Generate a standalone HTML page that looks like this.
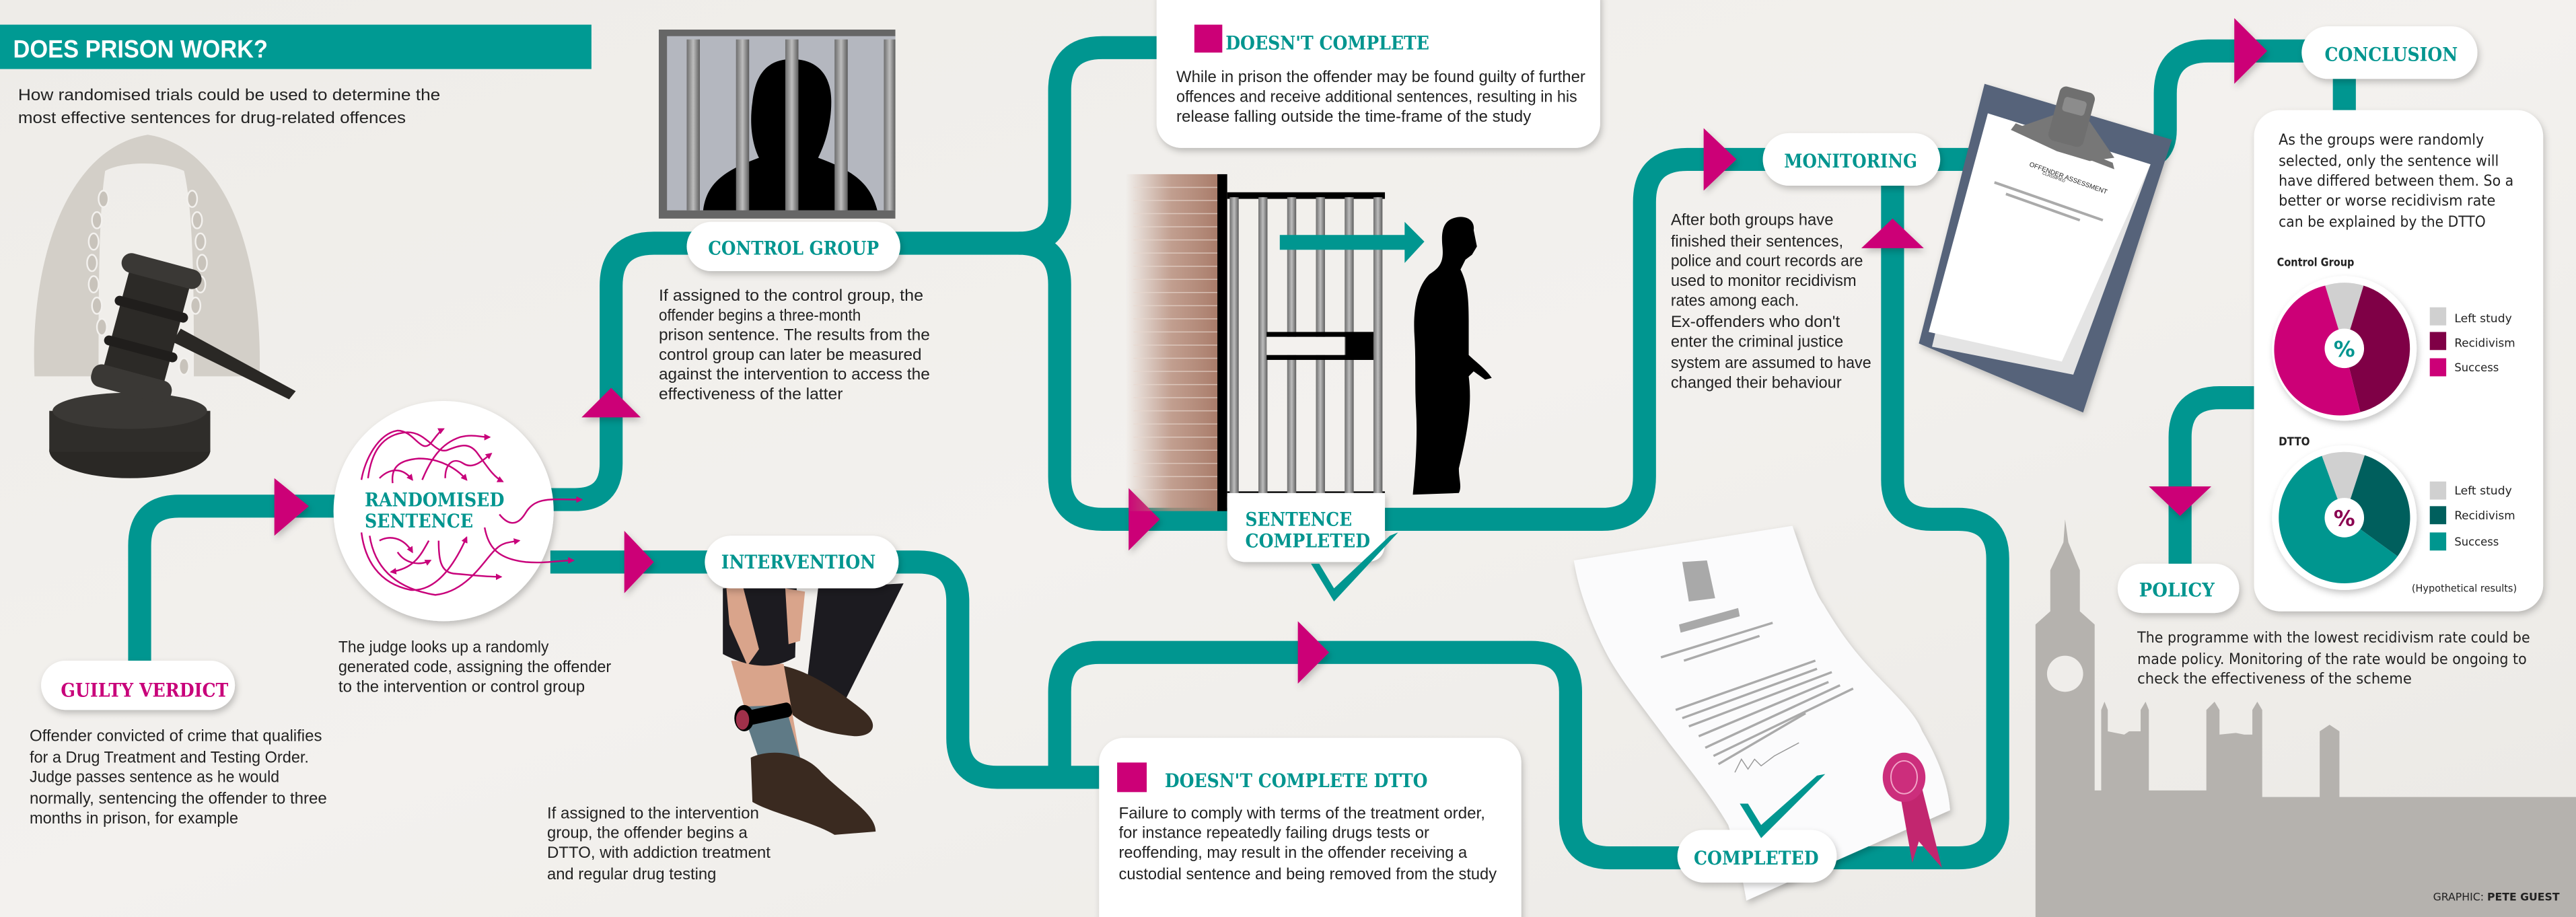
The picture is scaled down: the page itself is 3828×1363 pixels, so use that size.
<!DOCTYPE html>
<html><head><meta charset="utf-8">
<style>
html,body{margin:0;padding:0;background:#efedea;}
svg{display:block;}
.b{font-family:"Liberation Sans",sans-serif;font-size:10px;fill:#222;}
.w{font-family:"DejaVu Sans","Liberation Sans",sans-serif;fill:#222;}
.h{font-family:"DejaVu Serif","Liberation Serif",serif;font-weight:bold;font-size:11.5px;fill:#00958f;}
</style></head><body>
<svg width="3828" height="1363" viewBox="0 0 1568 558" preserveAspectRatio="none" xmlns="http://www.w3.org/2000/svg">
<defs>
<filter id="sh" x="-20%" y="-20%" width="140%" height="160%"><feDropShadow dx="1" dy="2" stdDeviation="2" flood-color="#000" flood-opacity="0.22"/></filter>
<linearGradient id="bg" x1="0" y1="0" x2="1" y2="1"><stop offset="0" stop-color="#eeece8"/><stop offset="0.5" stop-color="#f3f1ee"/><stop offset="1" stop-color="#ebe9e5"/></linearGradient>
<linearGradient id="brick" x1="0" y1="0" x2="1" y2="0"><stop offset="0" stop-color="#b58a78" stop-opacity="0"/><stop offset="0.5" stop-color="#b58a78" stop-opacity="0.8"/><stop offset="1" stop-color="#a97c6a"/></linearGradient>
<linearGradient id="bar" x1="0" y1="0" x2="1" y2="0"><stop offset="0" stop-color="#6d6d6d"/><stop offset="0.5" stop-color="#bdbdbd"/><stop offset="1" stop-color="#5d5d5d"/></linearGradient>
<marker id="ah" viewBox="0 0 10 10" refX="8" refY="5" markerWidth="4" markerHeight="4" orient="auto"><path d="M0,0 L10,5 L0,10 z" fill="#c8007a"/></marker>
</defs>
<rect width="1568" height="558" fill="url(#bg)"/>

<!-- Big Ben skyline -->
<path d="M1239,558 V380 L1248,372 V347 L1256,330 L1257,316 L1259,330 L1266,347 V372 L1275,380 V481 H1279 V432 L1281,427 L1283,432 V445 L1293,447 L1296,445 H1303 V432 L1306,427 L1308,432 V481 H1343 V432 L1348,427 L1351,432 V447 L1361,446 L1366,447 H1371 V432 L1374,427 L1377,432 V485 H1412 V445 L1418,441 L1424,445 V485 H1568 V558 Z" fill="#b5b2ae"/>
<circle cx="1257" cy="410" r="11" fill="#efedea"/>

<!-- Title -->
<rect x="0" y="15" width="360" height="27" fill="#009a93"/>
<text x="8" y="35" font-family="Liberation Sans Narrow,Liberation Sans,sans-serif" font-weight="bold" font-size="15" fill="#fff" textLength="155" lengthAdjust="spacingAndGlyphs">DOES PRISON WORK?</text>
<text class="b" x="11" y="61" font-size="10.5" textLength="257" lengthAdjust="spacingAndGlyphs">How randomised trials could be used to determine the</text>
<text class="b" x="11" y="75" font-size="10.5" textLength="236" lengthAdjust="spacingAndGlyphs">most effective sentences for drug-related offences</text>

<!-- Wig + gavel -->
<path d="M21,229 C18,160 40,90 90,82 C140,90 160,160 158,229 H118 C118,180 118,130 112,104 C100,98 75,98 64,104 C60,130 60,180 60,229 Z" fill="#d3cfc8"/>
<g fill="#c8c3bb" stroke="#f3f1ee" stroke-width="1"><ellipse cx="63" cy="121" rx="3" ry="5"/><ellipse cx="59" cy="134" rx="3" ry="5"/><ellipse cx="57" cy="147" rx="3" ry="5"/><ellipse cx="56" cy="160" rx="3" ry="5"/><ellipse cx="57" cy="173" rx="3" ry="5"/><ellipse cx="59" cy="186" rx="3" ry="5"/><ellipse cx="62" cy="199" rx="3" ry="5"/><ellipse cx="117" cy="121" rx="3" ry="5"/><ellipse cx="120" cy="134" rx="3" ry="5"/><ellipse cx="122" cy="147" rx="3" ry="5"/><ellipse cx="123" cy="160" rx="3" ry="5"/><ellipse cx="122" cy="173" rx="3" ry="5"/><ellipse cx="119" cy="186" rx="3" ry="5"/><ellipse cx="112" cy="223" rx="3" ry="5"/></g>
<ellipse cx="79" cy="274" rx="49" ry="17" fill="#2a2825"/>
<rect x="30" y="250" width="98" height="25" fill="#2f2d2a"/>
<ellipse cx="79" cy="250" rx="47" ry="11" fill="#3a3835"/>
<path d="M110,200 L180,238 L176,243 L105,208 Z" fill="#2a2825"/>
<g transform="rotate(15 90 200)"><rect x="70" y="160" width="38" height="78" rx="6" fill="#2c2a27"/><rect x="64" y="158" width="50" height="12" rx="6" fill="#3a3835"/><rect x="64" y="228" width="50" height="14" rx="6" fill="#3a3835"/><rect x="66" y="185" width="46" height="6" rx="3" fill="#201e1c"/><rect x="66" y="210" width="46" height="6" rx="3" fill="#201e1c"/></g>

<!-- Pipes -->
<g fill="none" stroke="#009690" stroke-width="14" stroke-linejoin="round">
<path d="M85,405 V332 Q85,308 109,308 H215"/>
<path d="M330,304 H350 Q372,304 372,282 V174 Q372,148 398,148 H425"/>
<path d="M545,148 H620 Q645,148 645,123 V55 Q645,29 671,29 H710"/>
<path d="M620,148 Q645,148 645,173 V290 Q645,316 671,316 H975 Q1001,316 1001,290 V123 Q1001,97 1027,97 H1300 Q1318,97 1318,79 V57 Q1318,31 1344,31 H1410"/>
<path d="M1152,100 V292 Q1152,316 1176,316 H1192 Q1216,316 1216,340 V498 Q1216,522 1192,522 H980 Q956,522 956,498 V421 Q956,397 932,397 H669 Q645,397 645,421 V473"/>
<path d="M335,342 H559 Q583,342 583,366 V449 Q583,473 607,473 H680"/>
<path d="M1427,45 V70"/>
<path d="M1375,242 H1351 Q1327,242 1327,266 V350"/>
</g>

<!-- Magenta arrows -->
<g fill="#cc0077" filter="url(#sh)">
<polygon points="167,291 188,308 167,326"/>
<polygon points="372,236 390,254 354,254"/>
<polygon points="380,323 398,342 380,361"/>
<polygon points="687,297 706,316 687,335"/>
<polygon points="790,378 809,397 790,416"/>
<polygon points="1037,78 1057,97 1037,116"/>
<polygon points="1152,133 1171,151 1133,151"/>
<polygon points="1360,11 1380,31 1360,51"/>
<polygon points="1308,296 1346,296 1327,314"/>
</g>

<!-- Prison bars picture -->
<rect x="401" y="18" width="144" height="115" fill="#666"/>
<rect x="406" y="22" width="139" height="106" fill="#b4b7bf"/>
<path d="M428,128 C430,112 440,104 462,96 C458,88 456,76 458,62 C460,42 470,36 482,36 C496,36 506,44 506,62 C506,76 502,88 498,96 C520,104 530,112 534,128 Z" fill="#000"/>
<g fill="url(#bar)"><rect x="418" y="24" width="8" height="104"/><rect x="448" y="24" width="8" height="104"/><rect x="478" y="24" width="8" height="104"/><rect x="508" y="24" width="8" height="104"/><rect x="538" y="24" width="7" height="104"/></g>

<!-- Gate, brick, man -->
<rect x="685" y="106" width="56" height="205" fill="url(#brick)"/>
<g stroke="#e8d8cf" stroke-width="0.6" opacity="0.7"><line x1="690" y1="114" x2="741" y2="114"/><line x1="690" y1="122" x2="741" y2="122"/><line x1="690" y1="130" x2="741" y2="130"/><line x1="690" y1="138" x2="741" y2="138"/><line x1="690" y1="146" x2="741" y2="146"/><line x1="690" y1="154" x2="741" y2="154"/><line x1="690" y1="162" x2="741" y2="162"/><line x1="690" y1="170" x2="741" y2="170"/><line x1="690" y1="178" x2="741" y2="178"/><line x1="690" y1="186" x2="741" y2="186"/><line x1="690" y1="194" x2="741" y2="194"/><line x1="690" y1="202" x2="741" y2="202"/><line x1="690" y1="210" x2="741" y2="210"/><line x1="690" y1="218" x2="741" y2="218"/><line x1="690" y1="226" x2="741" y2="226"/><line x1="690" y1="234" x2="741" y2="234"/><line x1="690" y1="242" x2="741" y2="242"/><line x1="690" y1="250" x2="741" y2="250"/><line x1="690" y1="258" x2="741" y2="258"/><line x1="690" y1="266" x2="741" y2="266"/><line x1="690" y1="274" x2="741" y2="274"/><line x1="690" y1="282" x2="741" y2="282"/><line x1="690" y1="290" x2="741" y2="290"/><line x1="690" y1="298" x2="741" y2="298"/></g>
<rect x="741" y="106" width="6" height="205" fill="#000"/>
<rect x="747" y="117" width="96" height="4" fill="#000"/>
<rect x="747" y="299" width="96" height="3" fill="#000"/>
<g fill="url(#bar)"><rect x="748.5" y="120" width="5.5" height="180"/><rect x="766" y="120" width="5.5" height="180"/><rect x="783.5" y="120" width="5.5" height="180"/><rect x="801" y="120" width="5.5" height="180"/><rect x="818.5" y="120" width="5.5" height="180"/><rect x="836" y="120" width="5.5" height="180"/></g>
<rect x="771" y="202" width="65" height="3" fill="#000"/><rect x="771" y="216" width="65" height="3" fill="#000"/><rect x="771" y="205" width="47" height="11" fill="#f3f1ee"/><rect x="819" y="202" width="17" height="17" fill="#000"/>
<path d="M779,143 H855 V135 L867,147 L855,160 V152 H779 Z" fill="#009690"/>
<path d="M884,133 C892,130 898,134 897,140 L899,150 L896,155 L892,158 L889,164 C893,172 894,180 894,195 L894,216 C898,220 905,225 908,230 L904,231 L897,226 L894,229 C896,245 894,260 888,285 C888,292 890,296 888,300 L860,301 C861,290 863,270 862,250 C861,235 862,220 861,205 C860,190 862,175 870,167 C876,163 879,160 878,150 C877,140 879,135 884,133 Z" fill="#000"/>

<!-- Legs illustration -->
<path d="M498,358 L550,355 L515,425 L490,425 Z" fill="#1c1b20"/>
<path d="M470,404 C490,406 510,420 525,432 C535,440 533,448 520,448 C500,446 485,440 478,430 Z" fill="#3a2a20"/>
<path d="M445,402 L477,404 L487,461 L463,465 Z" fill="#d9a48b"/>
<path d="M451,430 L478,429 L487,461 L463,465 Z" fill="#5f7a86"/>
<path d="M457,461 C470,455 490,458 500,470 C515,485 533,495 533,506 L508,508 C495,500 470,495 458,488 Z" fill="#3a2a20"/>
<path d="M440,358 L485,356 L484,400 C470,408 455,406 440,398 Z" fill="#1c1b20"/>
<path d="M442,356 L452,356 L462,395 L455,405 L444,380 Z" fill="#d9a48b"/>
<path d="M478,358 L490,360 L487,390 L480,392 Z" fill="#d9a48b"/>
<rect x="452" y="430" width="30" height="9" rx="3" fill="#000" transform="rotate(-12 467 434)"/>
<ellipse cx="453" cy="437" rx="6" ry="8" fill="#000"/><ellipse cx="452" cy="438" rx="4" ry="6" fill="#a0304a"/>

<!-- Certificate -->
<path d="M958,341 L1091,320 C1098,340 1104,360 1110,368 C1120,385 1128,395 1135,403 C1150,420 1165,432 1170,445 C1180,462 1186,478 1187,493 L1063,548 C1060,530 1056,515 1052,502 C1042,485 1030,470 1016,452 C1000,430 985,412 977,396 C968,378 961,360 958,341 Z" fill="#fbfbfc" filter="url(#sh)"/>
<polygon points="1024,342 1039,341 1044,364 1028,366" fill="#a9a9a9"/>
<polygon points="1022,380 1058,370 1059,375 1023,385" fill="#a9a9a9"/>
<g stroke="#aaa" stroke-width="1.4"><line x1="1011" y1="400" x2="1079" y2="379"/><line x1="1025" y1="402" x2="1071" y2="387"/><line x1="1020" y1="432" x2="1105" y2="402"/><line x1="1024" y1="437" x2="1106" y2="407"/><line x1="1028" y1="442" x2="1115" y2="409"/><line x1="1034" y1="448" x2="1113" y2="415"/><line x1="1038" y1="455" x2="1120" y2="417"/><line x1="1043" y1="460" x2="1128" y2="419"/><line x1="1046" y1="465" x2="1099" y2="434"/></g>
<path d="M1056,470 L1060,462 L1064,468 L1068,462 L1072,466 L1080,460 L1095,452" stroke="#999" stroke-width="0.6" fill="none"/>
<path d="M1156,480 L1164,525 L1168,512 L1182,528 L1170,480 Z" fill="#c2266f"/>
<ellipse cx="1159" cy="473" rx="13" ry="15" fill="#cc2e7c"/><ellipse cx="1159" cy="473" rx="8" ry="10" fill="none" stroke="#f2a5c8" stroke-width="0.8"/>

<!-- Clipboard -->
<polygon points="1208,51 1322,85 1268,251 1168,209" fill="#56647a" filter="url(#sh)"/>
<polygon points="1210,69 1309,100 1262,228 1176,211" fill="#e4e4e4"/>
<polygon points="1210,69 1309,100 1255,220 1174,202" fill="#fff"/>
<polygon points="1224,79 1287,103 1286,99 1227,75" fill="#777"/>
<path d="M1224,79 L1250,70 L1272,74 L1287,96 L1272,98 L1252,92 Z" fill="#777"/>
<rect x="1250" y="54" width="22" height="34" rx="4" fill="#6f6f6f" transform="rotate(15 1261 71)"/>
<rect x="1254" y="60" width="14" height="9" rx="2" fill="#8c8c8c" transform="rotate(15 1261 71)"/>
<text x="1235" y="101" font-family="Liberation Sans,sans-serif" font-size="4" fill="#222" transform="rotate(20 1235 101)">OFFENDER ASSESSMENT</text>
<text x="1243" y="106" font-family="Liberation Sans,sans-serif" font-size="2.5" fill="#222" transform="rotate(20 1243 106)">CLASSIFIED</text>
<line x1="1214" y1="111" x2="1280" y2="134" stroke="#aaa" stroke-width="1.6"/><line x1="1221" y1="118" x2="1266" y2="134" stroke="#aaa" stroke-width="1.6"/>

<!-- Pills and boxes -->
<g fill="#fff" filter="url(#sh)">
<rect x="25" y="402" width="118" height="30" rx="15"/>
<circle cx="270" cy="311" r="67"/>
<rect x="418" y="135" width="130" height="30" rx="15"/>
<rect x="429" y="326" width="118" height="32" rx="16"/>
<rect x="704" y="-15" width="270" height="105" rx="15"/>
<path d="M747,300 H843 V330 Q843,342 831,342 H759 Q747,342 747,330 Z"/>
<rect x="1073" y="81" width="108" height="32" rx="16"/>
<rect x="669" y="449" width="257" height="125" rx="15"/>
<rect x="1021" y="505" width="97" height="32" rx="16"/>
<rect x="1401" y="16" width="107" height="32" rx="16"/>
<rect x="1372" y="67" width="176" height="305" rx="16"/>
<rect x="1289" y="343" width="74" height="30" rx="15"/>
</g>

<!-- Squiggles -->
<g fill="none" stroke="#c8007a" stroke-width="1" marker-end="url(#ah)">
<path d="M220,292 C222,280 230,264 242,262 C252,262 256,276 262,270 C265,266 268,262 270,261"/>
<path d="M231,291 C236,286 244,283 251,292"/>
<path d="M239,294 C238,285 242,280 255,279 C268,279 278,285 284,292"/>
<path d="M257,292 C262,280 268,270 280,266 C288,264 292,266 298,266"/>
<path d="M271,291 C271,282 276,278 282,282 C288,286 294,280 299,276"/>
<path d="M224,291 C226,276 232,264 248,263 C260,263 264,276 272,274 C280,271 285,269 290,275 C296,283 300,290 306,293"/>
<path d="M304,313 C308,318 314,322 320,312 C326,302 336,304 354,304"/>
<path d="M295,321 C297,332 302,340 320,342 C332,343 340,341 349,341"/>
<path d="M220,324 C222,340 230,355 250,359 C265,360 276,345 284,327"/>
<path d="M225,326 C228,345 240,358 265,362 C285,360 295,340 302,334 C306,330 310,330 316,329"/>
<path d="M231,329 C236,326 245,326 251,336"/>
<path d="M242,336 C246,342 254,345 262,341"/>
<path d="M267,329 C267,340 268,348 276,349 C288,350 296,351 305,351"/>
<path d="M261,329 C256,338 252,346 238,348"/>
</g>

<!-- Checkmarks -->
<path d="M798,343 L812,366 L851,324 L846,326 L812,358 L803,343 Z" fill="#009690"/>
<path d="M1059,489 L1072,510 L1111,471 L1106,472 L1072,502 L1064,489 Z" fill="#009690"/>

<!-- Heading labels -->
<text class="h" x="37" y="424" fill="#c8007a" style="fill:#c8007a" textLength="102" lengthAdjust="spacingAndGlyphs">GUILTY VERDICT</text>
<text class="h" x="222" y="308" font-size="12.5" textLength="85" lengthAdjust="spacingAndGlyphs">RANDOMISED</text>
<text class="h" x="222" y="321" font-size="12.5" textLength="66" lengthAdjust="spacingAndGlyphs">SENTENCE</text>
<text class="h" x="431" y="155" textLength="104" lengthAdjust="spacingAndGlyphs">CONTROL GROUP</text>
<text class="h" x="439" y="346" textLength="94" lengthAdjust="spacingAndGlyphs">INTERVENTION</text>
<rect x="727" y="15" width="17" height="17" fill="#cc0077"/>
<text class="h" x="746" y="30" textLength="124" lengthAdjust="spacingAndGlyphs">DOESN'T COMPLETE</text>
<text class="h" x="758" y="320" textLength="65" lengthAdjust="spacingAndGlyphs">SENTENCE</text>
<text class="h" x="758" y="333" textLength="76" lengthAdjust="spacingAndGlyphs">COMPLETED</text>
<text class="h" x="1086" y="102" textLength="81" lengthAdjust="spacingAndGlyphs">MONITORING</text>
<rect x="680" y="464" width="18" height="18" fill="#cc0077"/>
<text class="h" x="709" y="479" textLength="160" lengthAdjust="spacingAndGlyphs">DOESN'T COMPLETE DTTO</text>
<text class="h" x="1031" y="526" textLength="76" lengthAdjust="spacingAndGlyphs">COMPLETED</text>
<text class="h" x="1415" y="37" textLength="81" lengthAdjust="spacingAndGlyphs">CONCLUSION</text>
<text class="h" x="1302" y="363" textLength="46" lengthAdjust="spacingAndGlyphs">POLICY</text>

<!-- Body text -->
<g class="b">
<text x="18" y="451" textLength="178" lengthAdjust="spacingAndGlyphs">Offender convicted of crime that qualifies</text>
<text x="18" y="464" textLength="170" lengthAdjust="spacingAndGlyphs">for a Drug Treatment and Testing Order.</text>
<text x="18" y="476" textLength="152" lengthAdjust="spacingAndGlyphs">Judge passes sentence as he would</text>
<text x="18" y="489" textLength="181" lengthAdjust="spacingAndGlyphs">normally, sentencing the offender to three</text>
<text x="18" y="501" textLength="127" lengthAdjust="spacingAndGlyphs">months in prison, for example</text>

<text x="206" y="397" textLength="128" lengthAdjust="spacingAndGlyphs">The judge looks up a randomly</text>
<text x="206" y="409" textLength="166" lengthAdjust="spacingAndGlyphs">generated code, assigning the offender</text>
<text x="206" y="421" textLength="150" lengthAdjust="spacingAndGlyphs">to the intervention or control group</text>

<text x="333" y="498" textLength="129" lengthAdjust="spacingAndGlyphs">If assigned to the intervention</text>
<text x="333" y="510" textLength="122" lengthAdjust="spacingAndGlyphs">group, the offender begins a</text>
<text x="333" y="522" textLength="136" lengthAdjust="spacingAndGlyphs">DTTO, with addiction treatment</text>
<text x="333" y="535" textLength="103" lengthAdjust="spacingAndGlyphs">and regular drug testing</text>

<text x="401" y="183" textLength="161" lengthAdjust="spacingAndGlyphs">If assigned to the control group, the</text>
<text x="401" y="195" textLength="123" lengthAdjust="spacingAndGlyphs">offender begins a three-month</text>
<text x="401" y="207" textLength="165" lengthAdjust="spacingAndGlyphs">prison sentence. The results from the</text>
<text x="401" y="219" textLength="160" lengthAdjust="spacingAndGlyphs">control group can later be measured</text>
<text x="401" y="231" textLength="165" lengthAdjust="spacingAndGlyphs">against the intervention to access the</text>
<text x="401" y="243" textLength="112" lengthAdjust="spacingAndGlyphs">effectiveness of the latter</text>

<text x="716" y="50" textLength="249" lengthAdjust="spacingAndGlyphs">While in prison the offender may be found guilty of further</text>
<text x="716" y="62" textLength="244" lengthAdjust="spacingAndGlyphs">offences and receive additional sentences, resulting in his</text>
<text x="716" y="74" textLength="216" lengthAdjust="spacingAndGlyphs">release falling outside the time-frame of the study</text>

<text x="1017" y="137" textLength="99" lengthAdjust="spacingAndGlyphs">After both groups have</text>
<text x="1017" y="150" textLength="105" lengthAdjust="spacingAndGlyphs">finished their sentences,</text>
<text x="1017" y="162" textLength="117" lengthAdjust="spacingAndGlyphs">police and court records are</text>
<text x="1017" y="174" textLength="113" lengthAdjust="spacingAndGlyphs">used to monitor recidivism</text>
<text x="1017" y="186" textLength="78" lengthAdjust="spacingAndGlyphs">rates among each.</text>
<text x="1017" y="199" textLength="103" lengthAdjust="spacingAndGlyphs">Ex-offenders who don't</text>
<text x="1017" y="211" textLength="105" lengthAdjust="spacingAndGlyphs">enter the criminal justice</text>
<text x="1017" y="224" textLength="122" lengthAdjust="spacingAndGlyphs">system are assumed to have</text>
<text x="1017" y="236" textLength="104" lengthAdjust="spacingAndGlyphs">changed their behaviour</text>

<text x="681" y="498" textLength="223" lengthAdjust="spacingAndGlyphs">Failure to comply with terms of the treatment order,</text>
<text x="681" y="510" textLength="189" lengthAdjust="spacingAndGlyphs">for instance repeatedly failing drugs tests or</text>
<text x="681" y="522" textLength="212" lengthAdjust="spacingAndGlyphs">reoffending, may result in the offender receiving a</text>
<text x="681" y="535" textLength="230" lengthAdjust="spacingAndGlyphs">custodial sentence and being removed from the study</text>
</g>

<!-- Conclusion box text -->
<g class="w" font-size="9">
<text x="1387" y="88" textLength="125" lengthAdjust="spacingAndGlyphs">As the groups were randomly</text>
<text x="1387" y="101" textLength="134" lengthAdjust="spacingAndGlyphs">selected, only the sentence will</text>
<text x="1387" y="113" textLength="143" lengthAdjust="spacingAndGlyphs">have differed between them. So a</text>
<text x="1387" y="125" textLength="132" lengthAdjust="spacingAndGlyphs">better or worse recidivism rate</text>
<text x="1387" y="138" textLength="126" lengthAdjust="spacingAndGlyphs">can be explained by the DTTO</text>
<text x="1386" y="162" font-size="7" font-weight="bold" textLength="47" lengthAdjust="spacingAndGlyphs">Control Group</text>
<text x="1387" y="271" font-size="7" font-weight="bold" textLength="19" lengthAdjust="spacingAndGlyphs">DTTO</text>
<g font-size="7">
<text x="1494" y="196" textLength="35" lengthAdjust="spacingAndGlyphs">Left study</text>
<text x="1494" y="211" textLength="37" lengthAdjust="spacingAndGlyphs">Recidivism</text>
<text x="1494" y="226" textLength="27" lengthAdjust="spacingAndGlyphs">Success</text>
<text x="1494" y="301" textLength="35" lengthAdjust="spacingAndGlyphs">Left study</text>
<text x="1494" y="316" textLength="37" lengthAdjust="spacingAndGlyphs">Recidivism</text>
<text x="1494" y="332" textLength="27" lengthAdjust="spacingAndGlyphs">Success</text>
</g>
<text x="1468" y="360" font-size="6" textLength="64" lengthAdjust="spacingAndGlyphs">(Hypothetical results)</text>
<text x="1301" y="391" font-size="9" textLength="239" lengthAdjust="spacingAndGlyphs">The programme with the lowest recidivism rate could be</text>
<text x="1301" y="404" font-size="9" textLength="237" lengthAdjust="spacingAndGlyphs">made policy. Monitoring of the rate would be ongoing to</text>
<text x="1301" y="416" font-size="9" textLength="167" lengthAdjust="spacingAndGlyphs">check the effectiveness of the scheme</text>
<text x="1481" y="548" font-size="6.5" textLength="77" lengthAdjust="spacingAndGlyphs">GRAPHIC:  <tspan font-weight="bold">PETE GUEST</tspan></text>
</g>

<!-- Legend squares -->
<rect x="1479" y="187" width="10" height="11" fill="#d0d0d0"/><rect x="1479" y="202" width="10" height="11" fill="#7f0046"/><rect x="1479" y="218" width="10" height="11" fill="#cc0077"/>
<rect x="1479" y="293" width="10" height="11" fill="#d0d0d0"/><rect x="1479" y="308" width="10" height="11" fill="#005f5d"/><rect x="1479" y="324" width="10" height="11" fill="#00968f"/>

<!-- Pies -->
<circle cx="1427" cy="212" r="44" fill="#fff" filter="url(#sh)"/>
<path d="M1427,212 L1415.3,173.8 A40,40 0 0 1 1438.7,173.8 Z" fill="#d0d0d0"/>
<path d="M1427,212 L1438.7,173.8 A40,40 0 0 1 1436.7,250.8 Z" fill="#7f0046"/>
<path d="M1427,212 L1436.7,250.8 A40,40 0 1 1 1415.3,173.8 Z" fill="#cc0077"/>
<circle cx="1427" cy="212" r="12" fill="#fff"/>
<text x="1427" y="217" text-anchor="middle" font-family="DejaVu Sans,sans-serif" font-weight="bold" font-size="13" fill="#00958f">%</text>
<circle cx="1427" cy="315" r="44" fill="#fff" filter="url(#sh)"/>
<path d="M1427,315 L1413.3,277.4 A40,40 0 0 1 1439.4,277 Z" fill="#d0d0d0"/>
<path d="M1427,315 L1439.4,277 A40,40 0 0 1 1459.4,338.5 Z" fill="#005f5d"/>
<path d="M1427,315 L1459.4,338.5 A40,40 0 1 1 1413.3,277.4 Z" fill="#00968f"/>
<circle cx="1427" cy="315" r="12" fill="#fff"/>
<text x="1427" y="320" text-anchor="middle" font-family="DejaVu Sans,sans-serif" font-weight="bold" font-size="13" fill="#8a0050">%</text>
</svg>
</body></html>
